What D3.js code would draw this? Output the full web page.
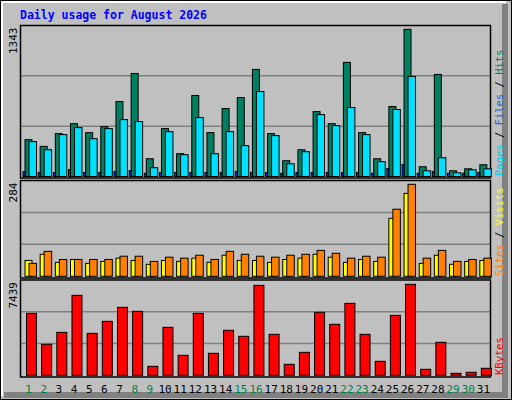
<!DOCTYPE html>
<html>
<head>
<meta charset="utf-8">
<script src="https://cdn.jsdelivr.net/npm/d3@7"></script>
<style>
body { margin: 0; background: #fff; }
text { font-family: 'DejaVu Sans Mono', monospace; }
</style>
</head>
<body>
<svg id="svg" width="512" height="400"></svg>
<script>
const days = d3.range(1, 32);
const weekend = [1, 2, 8, 9, 15, 16, 22, 23, 29, 30];
const hits = [336, 275, 391, 482, 400, 455, 684, 940, 162, 437, 208, 739, 400, 620, 720, 977,
	391, 144, 244, 592, 482, 1041, 400, 162, 638, 1343, 89, 931, 52, 70, 107];
const files = [318, 244, 382, 446, 345, 437, 519, 501, 80, 409, 199, 537, 208, 409, 281, 775,
	373, 116, 226, 565, 464, 629, 382, 135, 611, 913, 52, 171, 34, 61, 70];
const pages = [45, 37, 37, 64, 37, 37, 46, 55, 30, 37, 37, 37, 37, 37, 46, 37,
	37, 30, 37, 37, 37, 37, 37, 30, 73, 110, 30, 45, 30, 30, 37];
const visits = [49, 68, 43, 52, 40, 46, 56, 49, 37, 49, 46, 56, 43, 65, 49, 49,
	43, 52, 56, 68, 59, 43, 52, 46, 179, 256, 40, 65, 37, 46, 49];
const sites = [40, 77, 52, 52, 52, 52, 62, 62, 46, 59, 56, 65, 52, 77, 68, 62,
	59, 65, 68, 80, 71, 56, 62, 59, 207, 284, 56, 80, 46, 52, 56];
const kbytes = [5065, 2533, 3513, 6536, 3431, 4412, 5556, 5229, 735, 3922, 1634, 5065, 1797, 3677, 3186, 7353,
	3350, 899, 1879, 5147, 4167, 5882, 3350, 1144, 4902, 7439, 490, 2696, 163, 245, 572];

const svg = d3.select('#svg');
const left = 20.5, right = 490.5;

// frame
svg.append('rect').attr('x', 0.5).attr('y', 0.5).attr('width', 511).attr('height', 399)
	.attr('fill', '#c0c0c0').attr('stroke', '#000');
svg.append('path').attr('d', 'M505,4V395H4').attr('fill', 'none').attr('stroke', '#808080').attr('stroke-width', 6);
svg.append('path').attr('d', 'M2,396V2H506').attr('fill', 'none').attr('stroke', '#fff').attr('stroke-width', 2);

svg.append('text').attr('x', 20).attr('y', 19).attr('fill', '#0000ff')
	.attr('font-size', 11.5).attr('font-weight', 'bold').text('Daily usage for August 2026');

const x = d3.scaleBand().domain(days).range([left, right]);

const panels = [
	{ top: 25.5, bottom: 178, max: 1343, peak: 29.3, base: 176.5, label: '1343',
		names: [['Pages', '#00c8e8'], [' / ', '#000'], ['Files', '#2060d0'], [' / ', '#000'], ['Hits', '#008060']] },
	{ top: 180.5, bottom: 278, max: 284, peak: 184.3, base: 276.3, label: '284',
		names: [['Sites', '#ff8000'], [' / ', '#000'], ['Visits', '#ffff00']] },
	{ top: 280, bottom: 377, max: 7439, peak: 284.3, base: 375.3, label: '7439',
		names: [['KBytes', '#ff0000']] }
];

panels.forEach(p => {
	p.y = d3.scaleLinear().domain([0, p.max]).range([p.base, p.peak]);
	const h = p.base - p.top;
	[1 / 3, 2 / 3].forEach(f => {
		svg.append('line').attr('x1', left).attr('x2', right)
			.attr('y1', p.base - h * f).attr('y2', p.base - h * f)
			.attr('stroke', '#808080').attr('stroke-width', 1.5);
	});
	svg.append('rect').attr('x', left).attr('y', p.top).attr('width', right - left).attr('height', p.bottom - p.top)
		.attr('fill', 'none').attr('stroke', '#000').attr('stroke-width', 1.5);
	svg.append('text').attr('transform', `translate(17,${p.top + 2}) rotate(-90)`)
		.attr('text-anchor', 'end').attr('font-size', 11).attr('font-family', 'Liberation Sans, sans-serif')
		.attr('fill', '#000').text(p.label);
	const t = svg.append('text').attr('transform', `translate(503,${p.bottom - 2}) rotate(-90)`)
		.attr('font-size', 10.5);
	p.names.forEach(n => t.append('tspan').attr('fill', n[1]).text(n[0]));
});

function bars(series, panel, off, w, color) {
	svg.append('g').selectAll('rect').data(series).join('rect')
		.attr('x', (d, i) => x(days[i]) + off)
		.attr('y', d => panel.y(d))
		.attr('width', w)
		.attr('height', d => panel.base - panel.y(d))
		.attr('fill', color).attr('stroke', '#000').attr('stroke-width', 1);
}

bars(hits, panels[0], 4.5, 7, '#008060');
bars(files, panels[0], 8.5, 7.5, '#00e0ff');
bars(pages, panels[0], 2.5, 2, '#0040ff');
bars(visits, panels[1], 4.5, 7, '#ffff00');
bars(sites, panels[1], 8.5, 7.5, '#ff8000');
bars(kbytes, panels[2], 6, 10, '#ff0000');

svg.append('g').selectAll('text').data(days).join('text')
	.attr('x', d => x(d) + x.bandwidth() / 2 + 0.5)
	.attr('y', 393).attr('text-anchor', 'middle')
	.attr('font-size', 11).attr('font-family', 'Liberation Sans, sans-serif')
	.attr('fill', d => weekend.includes(d) ? '#008040' : '#000')
	.text(d => d);
</script>
</body>
</html>
